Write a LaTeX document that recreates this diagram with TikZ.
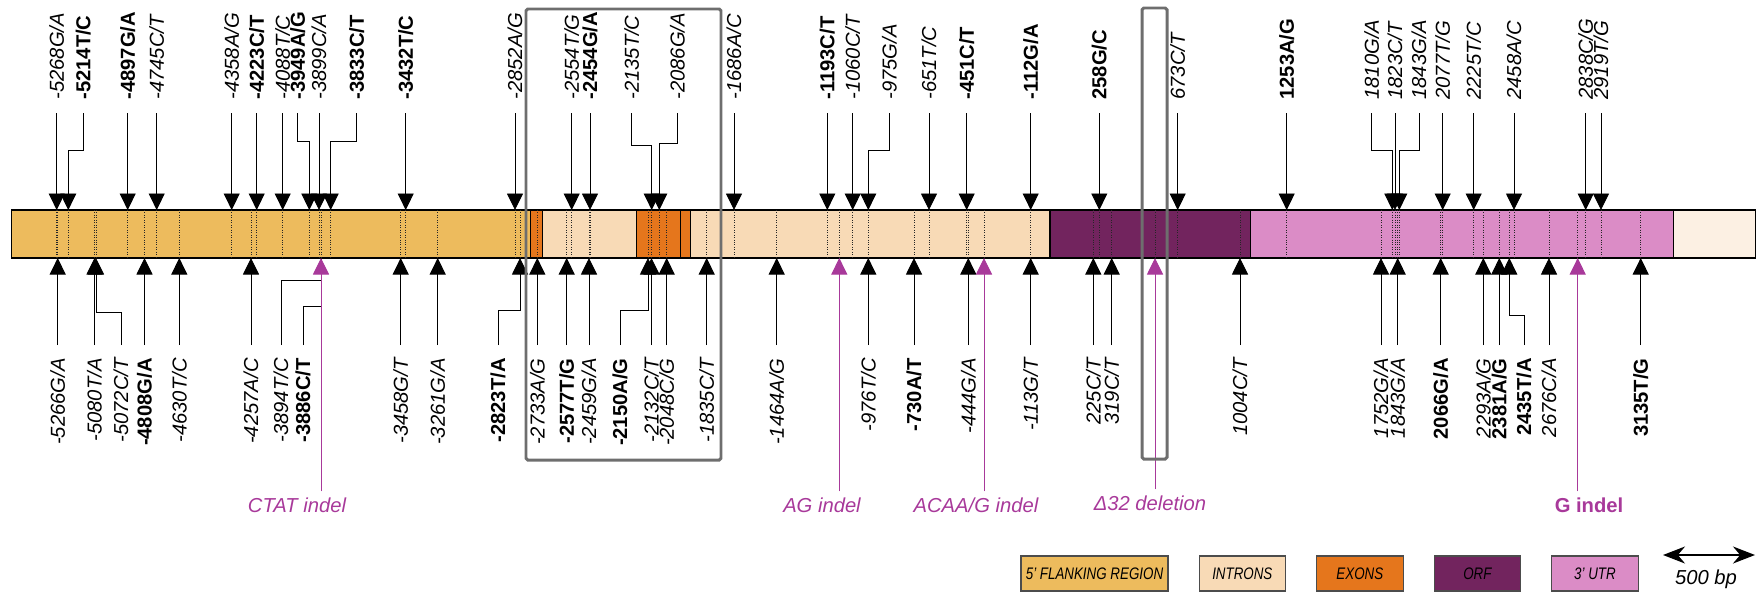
\documentclass[tikz,border=0pt]{standalone}
\usepackage{fontspec}
\setmainfont{Liberation Sans}
\usepackage{graphicx}
\usetikzlibrary{positioning,arrows.meta}

\definecolor{flankColor}{HTML}{EDBB5D}
\definecolor{intronColor}{HTML}{F8DAB6}
\definecolor{exonColor}{HTML}{E5761C}
\definecolor{orfColor}{HTML}{72245E}
\definecolor{utrColor}{HTML}{DB8CC6}
\definecolor{tailColor}{HTML}{FCF0E3}
\definecolor{indelColor}{HTML}{A8399A}
\definecolor{boxColor}{HTML}{6E6E6E}

\begin{document}
\begin{tikzpicture}[x=0.2mm, y=-0.2mm, node distance=0,
  geneSegment/.style={rectangle, draw=black, line width=0.6pt, minimum height=9.6mm, inner sep=0, outer sep=0},
  upLabel/.style={rotate=90, anchor=west, inner xsep=2.6mm, inner ysep=0pt},
  downLabel/.style={rotate=90, anchor=east, inner xsep=2.6mm, inner ysep=0pt},
  italicSnp/.style={font=\fontsize{11.5}{13}\selectfont\itshape},
  boldSnp/.style={font=\fontsize{11.5}{13}\selectfont\bfseries},
  snpArrow/.style={line width=0.55pt, -{Triangle[width=3.2mm, length=3.3mm]}},
  snpLine/.style={line width=0.55pt},
  indelArrow/.style={indelColor, line width=0.55pt, -{Triangle[width=3.2mm, length=3.3mm]}},
  indelLabel/.style={indelColor, font=\fontsize{11.5}{13}\selectfont\itshape},
  snpMark/.style={black!85, line width=0.4pt, densely dotted},
  selectBox/.style={boxColor, line width=1.7pt, rounded corners=1pt},
  legendBox/.style={rectangle, draw=black!70, line width=0.6pt, minimum width=17.3mm, minimum height=7mm, inner sep=0, font=\fontsize{9.5}{10}\selectfont\itshape}]

\useasboundingbox (0,0) rectangle (1758,592);

\node[geneSegment, fill=flankColor, minimum width=103.76mm](flank) at (271.1,234){};
\node[geneSegment, fill=exonColor, minimum width=2.36mm](exonOne)[right=of flank]{};
\node[geneSegment, fill=intronColor, minimum width=18.88mm](intronOne)[right=of exonOne]{};
\node[geneSegment, fill=exonColor, minimum width=8.8mm](exonTwo)[right=of intronOne]{};
\node[geneSegment, fill=exonColor, minimum width=2mm](exonThree)[right=of exonTwo]{};
\node[geneSegment, fill=intronColor, minimum width=71.86mm](intronTwo)[right=of exonThree]{};
\node[geneSegment, fill=orfColor, minimum width=40.14mm](orf)[right=of intronTwo]{};
\node[geneSegment, fill=utrColor, minimum width=84.52mm](utr)[right=of orf]{};
\node[geneSegment, fill=tailColor, minimum width=16.48mm](tail)[right=of utr]{};

\foreach \x in {56.7, 68.3, 127.7, 156.7, 231.7, 256.7, 282.7, 309.3, 319, 330.7, 405.7, 515, 571.7, 590, 651.7, 659.3, 734, 827.3, 852.7, 868.3, 929, 966.7, 1030.7, 1099.3, 1177.7, 1286.7, 1392.3, 1395, 1399.3, 1442.7, 1473.7, 1514, 1585.7, 1601, 57.7, 94.5, 96, 144.5, 179.3, 251, 321, 400.7, 437.7, 520, 537.3, 566.7, 589, 648, 651.5, 666.7, 706.7, 776.7, 839.3, 914, 968.3, 984, 1093.3, 1111.7, 1155, 1240, 1381, 1397.7, 1440.7, 1483.3, 1499.3, 1509.3, 1549, 1577.7, 1640.7}
  \draw[snpMark](\x,210) -- (\x,258);

\coordinate (tipM5214) at (68.3,210);
\coordinate (tipM3949) at (309.3,210);
\coordinate (tipM3833) at (330.7,210);
\coordinate (tipM2135) at (651.7,210);
\coordinate (tipM2086) at (659.3,210);
\coordinate (tipM975) at (868.3,210);
\coordinate (tip1810) at (1392.3,210);
\coordinate (tip1843) at (1399.3,210);

\node[upLabel, italicSnp](upM5268) at (56.7,113){-5268G/A};
\draw[snpArrow](upM5268.west) -- (upM5268.west |- flank.north);
\node[upLabel, boldSnp](upM5214) at (83.3,113){-5214T/C};
\draw[snpArrow](upM5214.west) -- ++(0,37) -| (tipM5214);
\node[upLabel, boldSnp](upM4897) at (127.7,113){-4897G/A};
\draw[snpArrow](upM4897.west) -- (upM4897.west |- flank.north);
\node[upLabel, italicSnp](upM4745) at (156.7,113){-4745C/T};
\draw[snpArrow](upM4745.west) -- (upM4745.west |- flank.north);
\node[upLabel, italicSnp](upM4358) at (231.7,113){-4358A/G};
\draw[snpArrow](upM4358.west) -- (upM4358.west |- flank.north);
\node[upLabel, boldSnp](upM4223) at (256.7,113){-4223C/T};
\draw[snpArrow](upM4223.west) -- (upM4223.west |- flank.north);
\node[upLabel, italicSnp](upM4088) at (282.7,113){-4088T/C};
\draw[snpArrow](upM4088.west) -- (upM4088.west |- flank.north);
\node[upLabel, boldSnp](upM3949) at (297.7,113){-3949A/G};
\draw[snpArrow](upM3949.west) -- ++(0,28.7) -| (tipM3949);
\node[upLabel, italicSnp](upM3899) at (319,113){-3899C/A};
\draw[snpArrow](upM3899.west) -- (upM3899.west |- flank.north);
\node[upLabel, boldSnp](upM3833) at (356.7,113){-3833C/T};
\draw[snpArrow](upM3833.west) -- ++(0,28.7) -| (tipM3833);
\node[upLabel, boldSnp](upM3432) at (405.7,113){-3432T/C};
\draw[snpArrow](upM3432.west) -- (upM3432.west |- flank.north);
\node[upLabel, italicSnp](upM2852) at (515,113){-2852A/G};
\draw[snpArrow](upM2852.west) -- (upM2852.west |- flank.north);
\node[upLabel, italicSnp](upM2554) at (571.7,113){-2554T/G};
\draw[snpArrow](upM2554.west) -- (upM2554.west |- intronOne.north);
\node[upLabel, boldSnp](upM2454) at (590,113){-2454G/A};
\draw[snpArrow](upM2454.west) -- (upM2454.west |- intronOne.north);
\node[upLabel, italicSnp](upM2135) at (631.7,113){-2135T/C};
\draw[snpArrow](upM2135.west) -- ++(0,32) -| (tipM2135);
\node[upLabel, italicSnp](upM2086) at (677.3,113){-2086G/A};
\draw[snpArrow](upM2086.west) -- ++(0,30.3) -| (tipM2086);
\node[upLabel, italicSnp](upM1686) at (734,113){-1686A/C};
\draw[snpArrow](upM1686.west) -- (upM1686.west |- intronTwo.north);
\node[upLabel, boldSnp](upM1193) at (827.3,113){-1193C/T};
\draw[snpArrow](upM1193.west) -- (upM1193.west |- intronTwo.north);
\node[upLabel, italicSnp](upM1060) at (852.7,113){-1060C/T};
\draw[snpArrow](upM1060.west) -- (upM1060.west |- intronTwo.north);
\node[upLabel, italicSnp](upM975) at (889.3,113){-975G/A};
\draw[snpArrow](upM975.west) -- ++(0,37) -| (tipM975);
\node[upLabel, italicSnp](upM651) at (929,113){-651T/C};
\draw[snpArrow](upM651.west) -- (upM651.west |- intronTwo.north);
\node[upLabel, boldSnp](upM451) at (966.7,113){-451C/T};
\draw[snpArrow](upM451.west) -- (upM451.west |- intronTwo.north);
\node[upLabel, boldSnp](upM112) at (1030.7,113){-112G/A};
\draw[snpArrow](upM112.west) -- (upM112.west |- intronTwo.north);
\node[upLabel, boldSnp](up258) at (1099.3,113){258G/C};
\draw[snpArrow](up258.west) -- (up258.west |- orf.north);
\node[upLabel, italicSnp](up673) at (1177.7,113){673C/T};
\draw[snpArrow](up673.west) -- (up673.west |- orf.north);
\node[upLabel, boldSnp](up1253) at (1286.7,113){1253A/G};
\draw[snpArrow](up1253.west) -- (up1253.west |- utr.north);
\node[upLabel, italicSnp](up1810) at (1371.7,113){1810G/A};
\draw[snpArrow](up1810.west) -- ++(0,37.7) -| (tip1810);
\node[upLabel, italicSnp](up1823) at (1395,113){1823C/T};
\draw[snpArrow](up1823.west) -- (up1823.west |- utr.north);
\node[upLabel, italicSnp](up1843) at (1419,113){1843G/A};
\draw[snpArrow](up1843.west) -- ++(0,37.7) -| (tip1843);
\node[upLabel, italicSnp](up2077) at (1442.7,113){2077T/G};
\draw[snpArrow](up2077.west) -- (up2077.west |- utr.north);
\node[upLabel, italicSnp](up2225) at (1473.7,113){2225T/C};
\draw[snpArrow](up2225.west) -- (up2225.west |- utr.north);
\node[upLabel, italicSnp](up2458) at (1514,113){2458A/C};
\draw[snpArrow](up2458.west) -- (up2458.west |- utr.north);
\node[upLabel, italicSnp](up2838) at (1585.7,113){2838C/G};
\draw[snpArrow](up2838.west) -- (up2838.west |- utr.north);
\node[upLabel, italicSnp](up2919) at (1601,113){2919T/G};
\draw[snpArrow](up2919.west) -- (up2919.west |- utr.north);

\coordinate (tipM5072) at (96,258);
\coordinate (tipCtat) at (321,258);
\coordinate (tipM2823) at (520,258);
\coordinate (tipM2150) at (648,258);
\coordinate (tipAg) at (839.3,258);
\coordinate (tipAcaa) at (984,258);
\coordinate (tipDelta) at (1155,258);
\coordinate (tip2435) at (1509.3,258);
\coordinate (tipGindel) at (1577.7,258);

\node[downLabel, italicSnp](downM5266) at (57.7,345){-5266G/A};
\draw[snpArrow](downM5266.east) -- (downM5266.east |- flank.south);
\node[downLabel, italicSnp](downM5080) at (94.5,345){-5080T/A};
\draw[snpArrow](downM5080.east) -- (downM5080.east |- flank.south);
\node[downLabel, italicSnp](downM5072) at (121,345){-5072C/T};
\draw[snpArrow](downM5072.east) -- ++(0,-32.3) -| (tipM5072);
\node[downLabel, boldSnp](downM4808) at (144.5,345){-4808G/A};
\draw[snpArrow](downM4808.east) -- (downM4808.east |- flank.south);
\node[downLabel, italicSnp](downM4630) at (179.3,345){-4630T/C};
\draw[snpArrow](downM4630.east) -- (downM4630.east |- flank.south);
\node[downLabel, italicSnp](downM4257) at (251,345){-4257A/C};
\draw[snpArrow](downM4257.east) -- (downM4257.east |- flank.south);
\node[downLabel, italicSnp](downM3894) at (281,345){-3894T/C};
\draw[snpLine](downM3894.east) -- ++(0,-65) -| (tipCtat);
\node[downLabel, boldSnp](downM3886) at (303,345){-3886C/T};
\draw[snpLine](downM3886.east) -- ++(0,-38.3) -| (tipCtat);
\node[downLabel, italicSnp](downM3458) at (400.7,345){-3458G/T};
\draw[snpArrow](downM3458.east) -- (downM3458.east |- flank.south);
\node[downLabel, italicSnp](downM3261) at (437.7,345){-3261G/A};
\draw[snpArrow](downM3261.east) -- (downM3261.east |- flank.south);
\node[downLabel, boldSnp](downM2823) at (498,345){-2823T/A};
\draw[snpArrow](downM2823.east) -- ++(0,-35) -| (tipM2823);
\node[downLabel, italicSnp](downM2733) at (537.3,345){-2733A/G};
\draw[snpArrow](downM2733.east) -- (downM2733.east |- exonOne.south);
\node[downLabel, boldSnp](downM2577) at (566.7,345){-2577T/G};
\draw[snpArrow](downM2577.east) -- (downM2577.east |- intronOne.south);
\node[downLabel, italicSnp](downM2459) at (589,345){-2459G/A};
\draw[snpArrow](downM2459.east) -- (downM2459.east |- intronOne.south);
\node[downLabel, boldSnp](downM2150) at (620,345){-2150A/G};
\draw[snpArrow](downM2150.east) -- ++(0,-34.3) -| (tipM2150);
\node[downLabel, italicSnp](downM2132) at (651.5,345){-2132C/T};
\draw[snpArrow](downM2132.east) -- (downM2132.east |- exonTwo.south);
\node[downLabel, italicSnp](downM2048) at (666.7,345){-2048C/G};
\draw[snpArrow](downM2048.east) -- (downM2048.east |- exonTwo.south);
\node[downLabel, italicSnp](downM1835) at (706.7,345){-1835C/T};
\draw[snpArrow](downM1835.east) -- (downM1835.east |- intronTwo.south);
\node[downLabel, italicSnp](downM1464) at (776.7,345){-1464A/G};
\draw[snpArrow](downM1464.east) -- (downM1464.east |- intronTwo.south);
\node[downLabel, italicSnp](downM976) at (868.3,345){-976T/C};
\draw[snpArrow](downM976.east) -- (downM976.east |- intronTwo.south);
\node[downLabel, boldSnp](downM730) at (914,345){-730A/T};
\draw[snpArrow](downM730.east) -- (downM730.east |- intronTwo.south);
\node[downLabel, italicSnp](downM444) at (968.3,345){-444G/A};
\draw[snpArrow](downM444.east) -- (downM444.east |- intronTwo.south);
\node[downLabel, italicSnp](downM113) at (1030.7,345){-113G/T};
\draw[snpArrow](downM113.east) -- (downM113.east |- intronTwo.south);
\node[downLabel, italicSnp](down225) at (1093.3,345){225C/T};
\draw[snpArrow](down225.east) -- (down225.east |- orf.south);
\node[downLabel, italicSnp](down319) at (1111.7,345){319C/T};
\draw[snpArrow](down319.east) -- (down319.east |- orf.south);
\node[downLabel, italicSnp](down1004) at (1240,345){1004C/T};
\draw[snpArrow](down1004.east) -- (down1004.east |- orf.south);
\node[downLabel, italicSnp](down1752) at (1381,345){1752G/A};
\draw[snpArrow](down1752.east) -- (down1752.east |- utr.south);
\node[downLabel, italicSnp](down1843) at (1397.7,345){1843G/A};
\draw[snpArrow](down1843.east) -- (down1843.east |- utr.south);
\node[downLabel, boldSnp](down2066) at (1440.7,345){2066G/A};
\draw[snpArrow](down2066.east) -- (down2066.east |- utr.south);
\node[downLabel, italicSnp](down2293) at (1483.3,345){2293A/G};
\draw[snpArrow](down2293.east) -- (down2293.east |- utr.south);
\node[downLabel, boldSnp](down2381) at (1499.3,345){2381A/G};
\draw[snpArrow](down2381.east) -- (down2381.east |- utr.south);
\node[downLabel, boldSnp](down2435) at (1524,345){2435T/A};
\draw[snpArrow](down2435.east) -- ++(0,-30) -| (tip2435);
\node[downLabel, italicSnp](down2676) at (1549,345){2676C/A};
\draw[snpArrow](down2676.east) -- (down2676.east |- utr.south);
\node[downLabel, boldSnp](down3135) at (1640.7,345){3135T/G};
\draw[snpArrow](down3135.east) -- (down3135.east |- utr.south);

\node[indelLabel](ctatIndel) at (297,505){CTAT indel};
\draw[indelArrow](tipCtat |- ctatIndel.north) -- (tipCtat);
\node[indelLabel](agIndel) at (822,505){AG indel};
\draw[indelArrow](tipAg |- agIndel.north) -- (tipAg);
\node[indelLabel](acaaIndel) at (976,505){ACAA/G indel};
\draw[indelArrow](tipAcaa |- acaaIndel.north) -- (tipAcaa);
\node[indelLabel](deltaDeletion) at (1150,503){Δ32 deletion};
\draw[indelArrow](tipDelta |- deltaDeletion.north) -- (tipDelta);
\node[indelLabel, font=\fontsize{11.5}{13}\selectfont\bfseries](gIndel) at (1589,505){G indel};
\draw[indelArrow](tipGindel |- gIndel.north) -- (tipGindel);

\draw[selectBox](526,9) rectangle (721,460);
\draw[selectBox](1142,8) rectangle (1167,459);

\node[legendBox, fill=flankColor, minimum width=29.4mm](legFlank) at (1094.5,573.5){\scalebox{0.8}[1]{5' FLANKING REGION}};
\node[legendBox, fill=intronColor](legIntrons)[right=6mm of legFlank]{\scalebox{0.8}[1]{INTRONS}};
\node[legendBox, fill=exonColor](legExons)[right=6mm of legIntrons]{\scalebox{0.8}[1]{EXONS}};
\node[legendBox, fill=orfColor](legOrf)[right=6mm of legExons]{\scalebox{0.8}[1]{ORF}};
\node[legendBox, fill=utrColor](legUtr)[right=6mm of legOrf]{\scalebox{0.8}[1]{3' UTR}};

\coordinate (scaleLeft) at (1663,555);
\coordinate (scaleRight) at (1755,555);
\draw[{Stealth[length=4.4mm, width=3.4mm]}-{Stealth[length=4.4mm, width=3.4mm]}, line width=0.9pt](scaleLeft) -- (scaleRight);
\node[italicSnp](scaleLabel) at (1706,579){500 bp};

\end{tikzpicture}
\end{document}
